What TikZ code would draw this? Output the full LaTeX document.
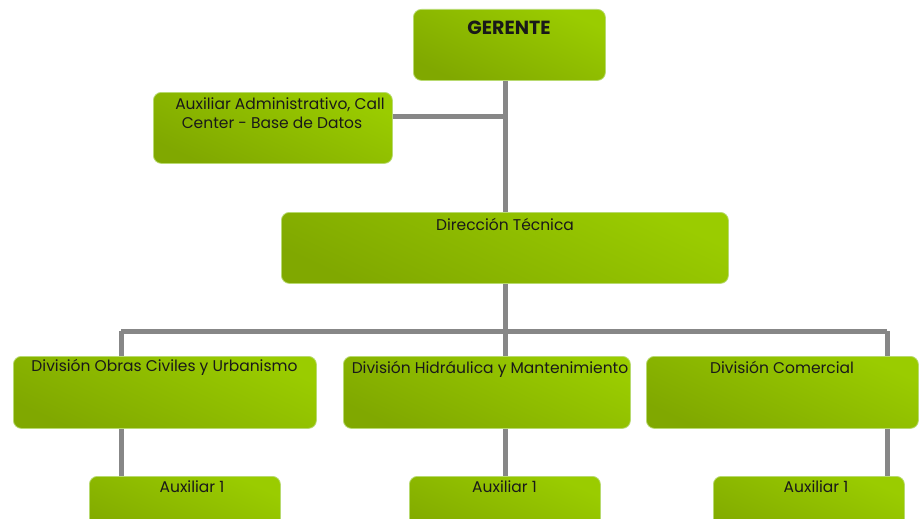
\documentclass[tikz,border=0pt]{standalone}
\usepackage{fontspec}
\setmainfont{Poppins}
\definecolor{gtop}{HTML}{9ACC00}
\definecolor{gbot}{HTML}{80A800}
\definecolor{gedge}{HTML}{B8DA70}
\definecolor{conn}{HTML}{878787}
\tikzset{
  box/.style={draw=gedge, line width=0.8pt, rounded corners=8pt, top color=gtop, bottom color=gbot, shading angle=-25, inner sep=0pt},
  lbl/.style={anchor=base, inner sep=0pt, font=\fontsize{15.5}{18}\selectfont, text=black!90},
  conline/.style={draw=conn, line width=5pt}
}
\begin{document}
\begin{tikzpicture}[x=1pt,y=-1pt]
\useasboundingbox (0,0) rectangle (923,519);
% coordinates for connectors
\coordinate (t1) at (505,116);
\coordinate (tl) at (121,331);
\coordinate (tr) at (887,331);
\draw[conline] (505,80) coordinate (gb) -- (505,212) coordinate (dt);
\draw[conline] (392,116) coordinate (ar) -- (t1);
\draw[conline] (505,283) coordinate (db) -- (505,356) coordinate (ht);
\draw[conline] (tl) -- (tr);
\draw[conline] (tl) -- (121,356) coordinate (ot);
\draw[conline] (tr) -- (887,356) coordinate (ct);
\draw[conline] (121,428) coordinate (ob) -- (121,476) coordinate (a1t);
\draw[conline] (505,428) coordinate (hb) -- (505,476) coordinate (a2t);
\draw[conline] (887,428) coordinate (cb) -- (887,476) coordinate (a3t);
% boxes
\node[box, minimum width=192pt, minimum height=71pt, anchor=north west] (ger) at (413,9) {};
\node[box, minimum width=239pt, minimum height=71pt, anchor=north west] (aux) at (153,92) {};
\node[box, minimum width=447pt, minimum height=71pt, anchor=north west] (dir) at (281,212) {};
\node[box, minimum width=303pt, minimum height=72pt, anchor=north west] (obr) at (13,356) {};
\node[box, minimum width=287pt, minimum height=72pt, anchor=north west] (hid) at (343,356) {};
\node[box, minimum width=272pt, minimum height=72pt, anchor=north west] (com) at (646,356) {};
\node[box, minimum width=191pt, minimum height=72pt, anchor=north west] (ax1) at (89,476) {};
\node[box, minimum width=191pt, minimum height=72pt, anchor=north west] (ax2) at (409,476) {};
\node[box, minimum width=191pt, minimum height=72pt, anchor=north west] (ax3) at (713,476) {};
% texts
\node[lbl, font=\fontsize{19}{22}\selectfont\bfseries] (tger) at (509,35) {GERENTE};
\node[lbl] (taux1) at (280,109) {Auxiliar Administrativo, Call};
\node[lbl] (taux2) at (272,128) {Center - Base de Datos};
\node[lbl] (tdir) at (505,230) {Dirección Técnica};
\node[lbl] (tobr) at (164.5,371) {División Obras Civiles y Urbanismo};
\node[lbl] (thid) at (490,373) {División Hidráulica y Mantenimiento};
\node[lbl] (tcom) at (782,373) {División Comercial};
\node[lbl] (tax1) at (192,492) {Auxiliar 1};
\node[lbl] (tax2) at (504.5,492) {Auxiliar 1};
\node[lbl] (tax3) at (816,492) {Auxiliar 1};
\end{tikzpicture}
\end{document}
